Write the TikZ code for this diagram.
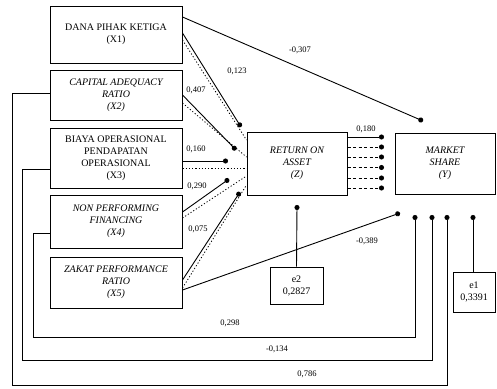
\documentclass[tikz,border=0pt]{standalone}
\usepackage{fontspec}
\setmainfont{Liberation Serif}
\usetikzlibrary{arrows.meta}
\begin{document}
\begin{tikzpicture}[x=1pt,y=-1pt,
  box/.style={draw, line width=1pt, align=center, inner sep=1pt, font=\fontsize{10}{12}\selectfont},
  ibox/.style={box, font=\fontsize{10}{12}\selectfont\itshape},
  lbl/.style={font=\fontsize{8.5}{10}\selectfont},
  ln/.style={line width=0.9pt},
  dotend/.style={ln, -{Circle[length=5pt]}},
  dotline/.style={line width=0.8pt, dash pattern=on 1.2pt off 2pt},
  dshend/.style={line width=0.9pt, dash pattern=on 3pt off 2.5pt, -{Circle[length=5pt]}}
]
\useasboundingbox (0,0) rectangle (497,388);

% boxes
\node[box,  minimum width=132pt, minimum height=57pt] (x1) at (116,34.5) {DANA PIHAK KETIGA\\(X1)};
\node[ibox, minimum width=132pt, minimum height=50pt] (x2) at (116,95) {CAPITAL ADEQUACY\\RATIO\\(X2)};
\node[box,  minimum width=132pt, minimum height=60pt] (x3) at (116,158) {BIAYA OPERASIONAL\\PENDAPATAN\\OPERASIONAL\\(X3)};
\node[ibox, minimum width=132pt, minimum height=53pt] (x4) at (116,221.5) {NON PERFORMING\\FINANCING\\(X4)};
\node[ibox, minimum width=132pt, minimum height=51pt] (x5) at (116,282.5) {ZAKAT PERFORMANCE\\RATIO\\(X5)};
\node[ibox, minimum width=100pt, minimum height=63pt] (z) at (297,163.5) {RETURN ON\\ASSET\\(Z)};
\node[ibox, minimum width=100pt, minimum height=61pt] (y) at (445,163.5) {MARKET\\SHARE\\(Y)};
\node[box,  minimum width=53pt, minimum height=37pt] (e2) at (296.5,285.5) {e2\\0,2827};
\node[box,  minimum width=42pt, minimum height=40pt] (e1) at (474,292) {e1\\0,3391};

% end points
\coordinate (d1) at (423,121);
\coordinate (d2) at (241,127);
\coordinate (d3) at (236,150);
\coordinate (d4) at (228,161);
\coordinate (d5) at (229,179);
\coordinate (d6) at (240,192);
\coordinate (d7) at (400,213);
\coordinate (d8) at (297,205);
\coordinate (d9) at (473,215);
\coordinate (y1) at (415,215);
\coordinate (y2) at (432,215);
\coordinate (y3) at (447,215);

% X1 -> Y
\draw[dotend] (x1.east |- 0,17) -- (d1);
\node[lbl] (l1) at (300,50) {-0,307};

% X -> Z direct
\draw[dotend] (x1.east |- 0,33) -- (d2);
\draw[dotend] (x2.east |- 0,95) -- (d3);
\draw[dotend] (x3.east |- 0,161) -- (d4);
\draw[dotend] (x4.east |- 0,212) -- (d5);
\draw[dotend] (x5.east |- 0,280) -- (d6);
\node[lbl] (l2) at (237,71) {0,123};
\node[lbl] (l3) at (196,90) {0,407};
\node[lbl] (l4) at (196,149) {0,160};
\node[lbl] (l5) at (197,186) {0,290};
\node[lbl] (l6) at (198,229) {0,075};

% dotted indirect paths
\draw[dotline] (x1.east |- 0,40) -- (z.west |- 0,140);
\draw[dotline] (x2.east |- 0,103) -- (z.west |- 0,157);
\draw[dotline] (x3.east |- 0,168) -- (z.west |- 0,168);
\draw[dotline] (x4.east |- 0,218) -- (z.west |- 0,176);
\draw[dotline] (x5.east |- 0,288) -- (z.west |- 0,185);

% Z -> Y
\coordinate (t1) at (384,137);
\coordinate (t2) at (384,147);
\coordinate (t3) at (384,157);
\coordinate (t4) at (384,167.5);
\coordinate (t5) at (384,178);
\coordinate (t6) at (384,188);
\draw[dotend] (z.east |- t1) -- (t1);
\draw[dshend] (z.east |- t2) -- (t2);
\draw[dshend] (z.east |- t3) -- (t3);
\draw[dshend] (z.east |- t4) -- (t4);
\draw[dshend] (z.east |- t5) -- (t5);
\draw[dshend] (z.east |- t6) -- (t6);
\node[lbl] (l7) at (366,129) {0,180};

% X5 -> Y
\draw[dotend] (x5.east |- 0,290) -- (d7);
\node[lbl] (l8) at (367,241) {-0,389};

% errors
\draw[dotend] (e2.north) -- (d8);
\draw[dotend] (e1.north -| d9) -- (d9);

% loops
\draw[dotend] (x4.west |- 0,233) -| (33,337) -| (y1);
\draw[dotend] (x3.west |- 0,169) -| (22,360) -| (y2);
\draw[dotend] (x2.west |- 0,93) -| (12,385) -| (y3);
\node[lbl] (l9) at (230,323) {0,298};
\node[lbl] (l10) at (277,349) {-0,134};
\node[lbl] (l11) at (307,374) {0,786};
\end{tikzpicture}
\end{document}
